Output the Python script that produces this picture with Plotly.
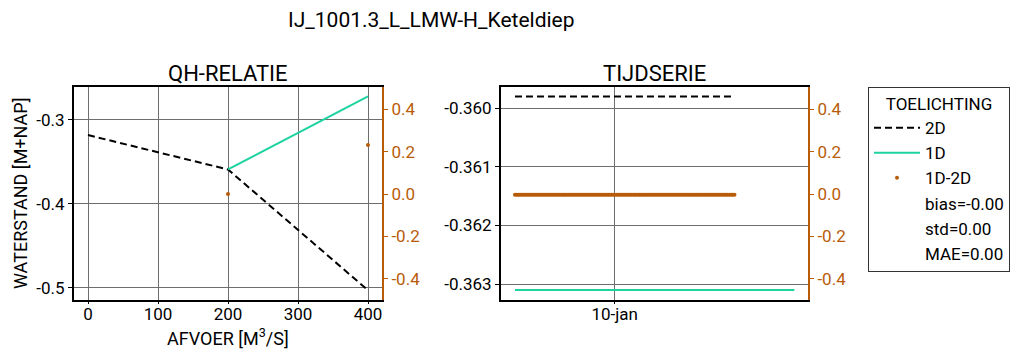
import plotly.graph_objects as go
import pandas as pd

# QH relation data
qh_q_2d = [0, 200, 400]
qh_h_2d = [-0.318, -0.359, -0.503]
qh_q_1d = [200, 400]
qh_h_1d = [-0.359, -0.272]
qh_q_diff = [200, 400]
qh_diff = [0.0, 0.231]

# time series data
t_2d = pd.date_range("2024-01-09 14:00", "2024-01-10 12:00", freq="10min")
t_1d = pd.date_range("2024-01-09 14:00", "2024-01-10 18:00", freq="10min")
h_2d_value = -0.3598
h_1d_value = -0.3631
h_2d = [h_2d_value] * len(t_2d)
h_1d = [h_1d_value] * len(t_1d)
diff_ts = [h_1d_value - h_2d_value] * len(t_2d)

title = "IJ_1001.3_L_LMW-H_Keteldiep"
stats = ["bias=-0.00", "std=0.00", "MAE=0.00"]

ORANGE = "#b85c0a"
GREEN = "#1dd3a0"
GRID = "#6e6e6e"
FONT = "Roboto"
W, H = 1019, 352
OFF = 8  # page body margin offset

def fx(px):
    return (px - OFF) / W

def fy(py):
    return 1 - (py - OFF) / H

fig = go.Figure()

DASH = "7px,4px"
# left panel
fig.add_trace(go.Scatter(x=qh_q_2d, y=qh_h_2d, mode="lines", name="2D",
                         line=dict(color="black", dash=DASH, width=2),
                         xaxis="x", yaxis="y"))
fig.add_trace(go.Scatter(x=qh_q_1d, y=qh_h_1d, mode="lines", name="1D",
                         line=dict(color=GREEN, width=2),
                         xaxis="x", yaxis="y"))
fig.add_trace(go.Scatter(x=qh_q_diff, y=qh_diff, mode="markers", name="1D-2D",
                         marker=dict(color=ORANGE, size=4),
                         xaxis="x", yaxis="y2"))
# right panel
fig.add_trace(go.Scatter(x=t_2d, y=h_2d, mode="lines", showlegend=False,
                         line=dict(color="black", dash=DASH, width=2),
                         xaxis="x2", yaxis="y3"))
fig.add_trace(go.Scatter(x=t_1d, y=h_1d, mode="lines", showlegend=False,
                         line=dict(color=GREEN, width=2),
                         xaxis="x2", yaxis="y3"))
fig.add_trace(go.Scatter(x=t_2d, y=diff_ts, mode="markers", showlegend=False,
                         marker=dict(color=ORANGE, size=4),
                         xaxis="x2", yaxis="y4"))
# stats entries in legend
for s in stats:
    fig.add_trace(go.Scatter(x=[None], y=[None], mode="markers", name=s,
                             marker=dict(color="rgba(0,0,0,0)", size=4),
                             xaxis="x", yaxis="y"))

tickfont = dict(family=FONT, size=17, color="black")
otickfont = dict(family=FONT, size=17, color=ORANGE)

common_x = dict(showline=True, linecolor="black", linewidth=2, mirror=True,
                ticks="outside", ticklen=2, tickcolor="black", automargin=False,
                ticklabelstandoff=-4,
                showgrid=True, gridcolor=GRID, gridwidth=1, zeroline=False,
                tickfont=tickfont)
common_y = dict(showline=True, linecolor="black", linewidth=2,
                ticks="outside", ticklen=4, tickcolor="black", automargin=False,
                showgrid=True, gridcolor=GRID, gridwidth=1, zeroline=False,
                tickfont=tickfont)
common_y2 = dict(showline=True, linecolor=ORANGE, linewidth=2, side="right",
                 ticks="outside", ticklen=4, tickcolor=ORANGE, automargin=False,
                 showgrid=False, zeroline=False, tickfont=otickfont,
                 range=[-0.5, 0.505], tickvals=[-0.4, -0.2, 0.0, 0.2, 0.4],
                 ticktext=["-0.4", "-0.2", "0.0", "0.2", "0.4"])

def ann(text, px, py, size, **kw):
    return dict(text=text, x=fx(px), y=fy(py), xref="paper", yref="paper",
                xanchor="center", yanchor="middle", showarrow=False,
                font=dict(family=FONT, size=size, color="black"), **kw)

fig.update_layout(
    template="none",
    width=W, height=H,
    margin=dict(l=0, r=0, t=0, b=0, pad=0),
    paper_bgcolor="white", plot_bgcolor="white",
    font=dict(family=FONT, color="black"),
    xaxis=dict(domain=[fx(74), fx(382)], range=[-20, 420],
               tickvals=[0, 100, 200, 300, 400], anchor="y", **common_x),
    yaxis=dict(domain=[fy(300), fy(87)], range=[-0.5146, -0.2607],
               tickvals=[-0.5, -0.4, -0.3], ticktext=["-0.5", "-0.4", "-0.3"], anchor="x",
               **common_y),
    yaxis2=dict(overlaying="y", anchor="x", **common_y2),
    xaxis2=dict(domain=[fx(501), fx(808)],
                range=[pd.Timestamp("2024-01-09 12:36"), pd.Timestamp("2024-01-10 19:22")],
                tickvals=[pd.Timestamp("2024-01-10")], ticktext=["10-jan"], anchor="y3",
                **common_x),
    yaxis3=dict(domain=[fy(300), fy(87)], range=[-0.36327, -0.35964], anchor="x2",
                tickvals=[-0.363, -0.362, -0.361, -0.360],
                ticktext=["-0.363", "-0.362", "-0.361", "-0.360"],
                **common_y),
    yaxis4=dict(overlaying="y3", anchor="x2", **common_y2),
    legend=dict(x=fx(868), y=fy(87), xanchor="left", yanchor="top",
                bordercolor="#333333", borderwidth=1, bgcolor="white",
                font=dict(family=FONT, size=17, color="black"),
                title=dict(text="TOELICHTING", side="top center", font=dict(family=FONT, size=17)),
                tracegroupgap=0, itemwidth=46),
    showlegend=True,
    annotations=[
        ann(title, 431, 20, 21),
        ann("QH-RELATIE", 228, 73, 22),
        ann("TIJDSERIE", 654, 73, 22),
        ann("AFVOER [M<sup>3</sup>/S]", 228, 337, 18),
        ann("WATERSTAND [M+NAP]", 20, 194, 18, textangle=-90),
    ],
)

fig.write_html("out.html")
